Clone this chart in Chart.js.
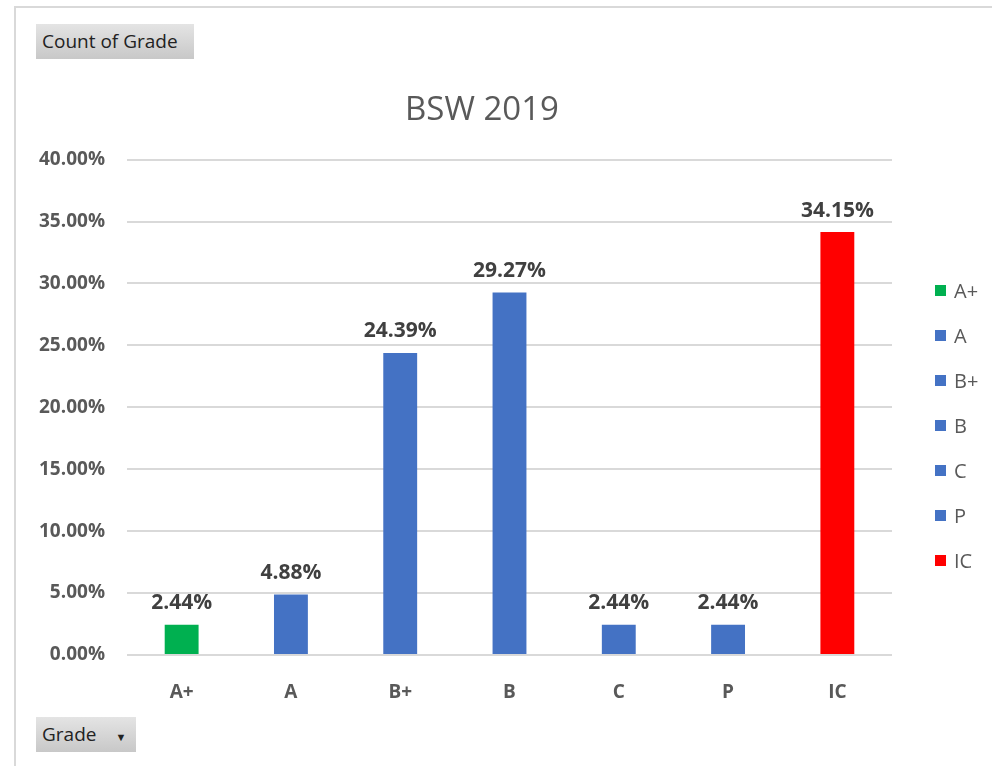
<!DOCTYPE html>
<html>
<head>
<meta charset="utf-8">
<script src="https://cdn.jsdelivr.net/npm/chart.js@4/dist/chart.umd.min.js"></script>
<style>
  body { margin: 0; background: #fff; width: 992px; height: 766px; overflow: hidden; font-family: "Open Sans", sans-serif; }
  .frame { position: absolute; left: 14px; top: 6px; width: 990px; height: 800px; border-left: 2px solid #d9d9d9; border-top: 2px solid #d9d9d9; }
  .btn { position: absolute; height: 35px; line-height: 35px; padding-left: 6px; font-size: 19px; color: #222;
         background: linear-gradient(#e4e4e4, #c8c8c8); box-sizing: border-box; }
  #chartBox { position: absolute; left: 0; top: 0; width: 964px; height: 766px; }
  #legend { position: absolute; left: 935px; top: 277px; }
  .li { height: 45px; font-size: 20px; color: #595959; display: flex; align-items: flex-start; }
  .sw { width: 11px; height: 11px; margin-top: 8px; margin-right: 8px; }
</style>
</head>
<body>
<div class="frame"></div>
<div class="btn" style="left:36px; top:24px; width:158px;">Count of Grade</div>
<div class="btn" style="left:36px; top:717px; width:100px;">Grade <span style="font-size:11px; margin-left:14px;">&#9660;</span></div>
<div id="chartBox"><canvas id="gradeChart"></canvas></div>
<div id="legend"></div>
<script>
const grades = ['A+', 'A', 'B+', 'B', 'C', 'P', 'IC'];
const shares = [2.44, 4.88, 24.39, 29.27, 2.44, 2.44, 34.15];
const barColors = ['#00B050', '#4472C4', '#4472C4', '#4472C4', '#4472C4', '#4472C4', '#FF0000'];

// value labels above each bar
const valueLabels = {
  id: 'valueLabels',
  afterDatasetsDraw(chart) {
    const ctx = chart.ctx;
    const meta = chart.getDatasetMeta(0);
    ctx.save();
    ctx.font = 'bold 21px "Open Sans"';
    ctx.fillStyle = '#404040';
    ctx.textAlign = 'center';
    ctx.textBaseline = 'bottom';
    meta.data.forEach((bar, i) => {
      ctx.fillText(shares[i].toFixed(2) + '%', bar.x, bar.y - 11);
    });
    ctx.restore();
  }
};

// Excel centres the title a bit left of the plot area
const shiftTitle = {
  id: 'shiftTitle',
  afterLayout(chart) {
    const t = chart.titleBlock;
    t.left = chart.chartArea.left - 55;
    t.right = chart.chartArea.right;
  }
};

new Chart(document.getElementById('gradeChart').getContext('2d'), {
  type: 'bar',
  data: {
    labels: grades,
    datasets: [{
      label: 'Count of Grade',
      data: shares,
      backgroundColor: barColors,
      categoryPercentage: 1,
      barPercentage: 0.31
    }]
  },
  options: {
    responsive: true,
    maintainAspectRatio: false,
    animation: false,
    layout: { padding: { left: 0, right: 72, top: 0, bottom: 0 } },
    plugins: {
      legend: { display: false },
      tooltip: { enabled: false },
      title: {
        display: true,
        text: 'BSW 2019',
        color: '#595959',
        font: { family: '"Open Sans"', size: 33, weight: 'normal', lineHeight: 1.2 },
        padding: { top: 91, bottom: 29 }
      }
    },
    scales: {
      x: {
        grid: { display: false },
        border: { display: false },
        ticks: { color: '#595959', font: { family: '"Open Sans"', size: 19, weight: 'bold' }, padding: 18 },
        afterFit: s => { s.height = 111; }
      },
      y: {
        min: 0, max: 40,
        grid: { color: '#d9d9d9', lineWidth: 2, drawTicks: false },
        border: { display: false },
        ticks: {
          stepSize: 5,
          color: '#595959',
          font: { family: '"Open Sans"', size: 19, weight: 'bold' },
          padding: 22,
          callback: v => v.toFixed(2) + '%'
        },
        afterFit: s => { s.width = 127; }
      }
    }
  },
  plugins: [valueLabels, shiftTitle]
});

// legend, one entry per grade
const legend = document.getElementById('legend');
grades.forEach((g, i) => {
  const row = document.createElement('div');
  row.className = 'li';
  row.innerHTML = `<span class="sw" style="background:${barColors[i]}"></span>${g}`;
  legend.appendChild(row);
});
</script>
</body>
</html>
